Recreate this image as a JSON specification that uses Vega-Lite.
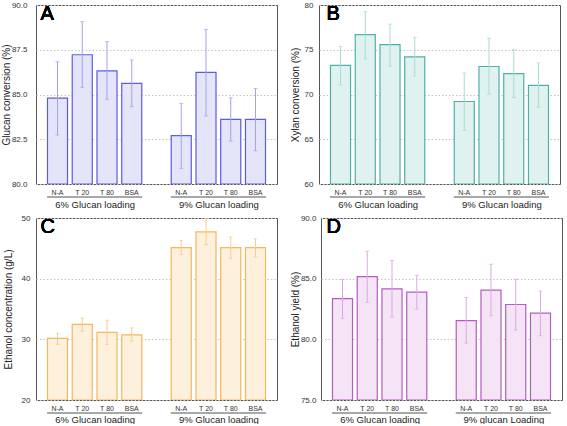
{
"$schema": "https://vega.github.io/schema/vega-lite/v6.json",
"padding": {"left": 0, "top": 0, "right": 7, "bottom": 0},
"datasets": {
"A": [
{"load":"6% Glucan loading","trt":"N-A","key":"6|N-A","value":84.8,"lo":82.74,"hi":86.83},
{"load":"6% Glucan loading","trt":"T 20","key":"6|T 20","value":87.22,"lo":85.4,"hi":89.07},
{"load":"6% Glucan loading","trt":"T 80","key":"6|T 80","value":86.32,"lo":84.73,"hi":87.95},
{"load":"6% Glucan loading","trt":"BSA","key":"6|BSA","value":85.62,"lo":84.32,"hi":86.93},
{"load":"9% Glucan loading","trt":"N-A","key":"9|N-A","value":82.7,"lo":80.87,"hi":84.5},
{"load":"9% Glucan loading","trt":"T 20","key":"9|T 20","value":86.24,"lo":83.8,"hi":88.64},
{"load":"9% Glucan loading","trt":"T 80","key":"9|T 80","value":83.61,"lo":82.4,"hi":84.82},
{"load":"9% Glucan loading","trt":"BSA","key":"9|BSA","value":83.61,"lo":81.86,"hi":85.34}
],
"B": [
{"load":"6% Glucan loading","trt":"N-A","key":"6|N-A","value":73.25,"lo":71.07,"hi":75.38},
{"load":"6% Glucan loading","trt":"T 20","key":"6|T 20","value":76.68,"lo":73.98,"hi":79.26},
{"load":"6% Glucan loading","trt":"T 80","key":"6|T 80","value":75.57,"lo":73.17,"hi":77.86},
{"load":"6% Glucan loading","trt":"BSA","key":"6|BSA","value":74.2,"lo":72.06,"hi":76.38},
{"load":"9% Glucan loading","trt":"N-A","key":"9|N-A","value":69.22,"lo":66.0,"hi":72.4},
{"load":"9% Glucan loading","trt":"T 20","key":"9|T 20","value":73.13,"lo":70.03,"hi":76.3},
{"load":"9% Glucan loading","trt":"T 80","key":"9|T 80","value":72.33,"lo":69.67,"hi":75.02},
{"load":"9% Glucan loading","trt":"BSA","key":"9|BSA","value":71.03,"lo":68.56,"hi":73.54}
],
"C": [
{"load":"6% Glucan loading","trt":"N-A","key":"6|N-A","value":30.15,"lo":29.15,"hi":31.0},
{"load":"6% Glucan loading","trt":"T 20","key":"6|T 20","value":32.45,"lo":31.35,"hi":33.5},
{"load":"6% Glucan loading","trt":"T 80","key":"6|T 80","value":31.15,"lo":29.15,"hi":33.16},
{"load":"6% Glucan loading","trt":"BSA","key":"6|BSA","value":30.75,"lo":29.7,"hi":31.9},
{"load":"9% Glucan loading","trt":"N-A","key":"9|N-A","value":45.12,"lo":43.97,"hi":46.27},
{"load":"9% Glucan loading","trt":"T 20","key":"9|T 20","value":47.7,"lo":45.6,"hi":49.9},
{"load":"9% Glucan loading","trt":"T 80","key":"9|T 80","value":45.12,"lo":43.3,"hi":46.87},
{"load":"9% Glucan loading","trt":"BSA","key":"9|BSA","value":45.12,"lo":43.6,"hi":46.6}
],
"D": [
{"load":"6% Glucan loading","trt":"N-A","key":"6|N-A","value":83.36,"lo":81.72,"hi":84.95},
{"load":"6% Glucan loading","trt":"T 20","key":"6|T 20","value":85.17,"lo":83.04,"hi":87.26},
{"load":"6% Glucan loading","trt":"T 80","key":"6|T 80","value":84.16,"lo":81.86,"hi":86.49},
{"load":"6% Glucan loading","trt":"BSA","key":"6|BSA","value":83.89,"lo":82.49,"hi":85.28},
{"load":"9% glucan Loading","trt":"N-A","key":"9|N-A","value":81.55,"lo":79.69,"hi":83.45},
{"load":"9% glucan Loading","trt":"T 20","key":"9|T 20","value":84.05,"lo":81.94,"hi":86.19},
{"load":"9% glucan Loading","trt":"T 80","key":"9|T 80","value":82.87,"lo":80.76,"hi":84.95},
{"load":"9% glucan Loading","trt":"BSA","key":"9|BSA","value":82.16,"lo":80.3,"hi":83.97}
]
},
"columns": 2,
"align": "none",
"spacing": {"row": 4, "column": 11},
"concat": [
{
"data": {"name": "A"},
"width": 241, "height": 179,
"layer": [
{"mark": {"type": "bar", "fill": "#e5e5fa", "stroke": "#5b5be8", "strokeWidth": 1.2, "clip": true},
 "encoding": {
  "x": {"field": "key", "type": "nominal", "sort": null, "scale": {"domain": ["6|N-A","6|T 20","6|T 80","6|BSA","gap","9|N-A","9|T 20","9|T 80","9|BSA"], "paddingInner": 0.19, "paddingOuter": 0.464}, "axis": {"orient": "bottom", "title": null, "labelExpr": "datum.value == 'gap' ? '' : slice(datum.value, 2)", "ticks": false, "domain": false, "grid": false, "labelAngle": 0, "labelFontSize": 7, "labelPadding": 4.5, "labelColor": "#333"}},
  "y": {"field": "value", "type": "quantitative", "stack": null, "scale": {"domain": [80, 90], "nice": false, "zero": false}, "axis": {"title": "Glucan conversion (%)", "labelOverlap": false, "labelPadding": 9, "titlePadding": 0, "values": [80, 81.25, 82.5, 83.75, 85, 86.25, 87.5, 88.75, 90], "labelExpr": "datum.value % 2.5 == 0 ? format(datum.value, '.1f') : ''"}}
 }},
{"mark": {"type": "rule", "color": "#a3a3ee", "strokeWidth": 1},
 "encoding": {
  "x": {"field": "key", "type": "nominal", "sort": null, "scale": {"domain": ["6|N-A","6|T 20","6|T 80","6|BSA","gap","9|N-A","9|T 20","9|T 80","9|BSA"], "paddingInner": 0.19, "paddingOuter": 0.464}, "axis": null},
  "y": {"field": "lo", "type": "quantitative"}, "y2": {"field": "hi"}}},
{"mark": {"type": "tick", "orient": "horizontal", "color": "#a3a3ee", "size": 4, "thickness": 1},
 "encoding": {
  "x": {"field": "key", "type": "nominal", "sort": null, "scale": {"domain": ["6|N-A","6|T 20","6|T 80","6|BSA","gap","9|N-A","9|T 20","9|T 80","9|BSA"], "paddingInner": 0.19, "paddingOuter": 0.464}, "axis": null},
  "y": {"field": "hi", "type": "quantitative"}}},
{"mark": {"type": "tick", "orient": "horizontal", "color": "#a3a3ee", "size": 4, "thickness": 1},
 "encoding": {
  "x": {"field": "key", "type": "nominal", "sort": null, "scale": {"domain": ["6|N-A","6|T 20","6|T 80","6|BSA","gap","9|N-A","9|T 20","9|T 80","9|BSA"], "paddingInner": 0.19, "paddingOuter": 0.464}, "axis": null},
  "y": {"field": "lo", "type": "quantitative"}}},
{"mark": {"type": "text", "text": "A", "fontSize": 20, "align": "left", "baseline": "top", "dx": -9, "dy": -1, "color": "#000"},
 "encoding": {
  "x": {"datum": "6|N-A", "type": "nominal", "bandPosition": 0, "scale": {"domain": ["6|N-A","6|T 20","6|T 80","6|BSA","gap","9|N-A","9|T 20","9|T 80","9|BSA"], "paddingInner": 0.19, "paddingOuter": 0.464}, "axis": null},
  "y": {"datum": 90, "type": "quantitative"}}},
{"mark": {"type": "tick", "orient": "horizontal", "size": 95, "thickness": 1, "color": "#999"},
 "encoding": {
  "y": {"datum": 79.27, "type": "quantitative"},
  "x": {"field": "load", "type": "nominal", "scale": {"type": "point", "padding": 0.4738, "domain": ["6% Glucan loading", "9% Glucan loading"]}, "axis": {"orient": "bottom", "title": null, "labelFontSize": 9.5, "labelColor": "#222", "domain": false, "ticks": false, "grid": false, "offset": 15, "labelPadding": 0, "labelAngle": 0}}}}
],
"resolve": {"scale": {"x": "independent"}, "axis": {"x": "independent"}}
},
{
"data": {"name": "B"},
"width": 241, "height": 179,
"layer": [
{"mark": {"type": "bar", "fill": "#e0f2f0", "stroke": "#4fb0a8", "strokeWidth": 1.2, "clip": true},
 "encoding": {
  "x": {"field": "key", "type": "nominal", "sort": null, "scale": {"domain": ["6|N-A","6|T 20","6|T 80","6|BSA","gap","9|N-A","9|T 20","9|T 80","9|BSA"], "paddingInner": 0.19, "paddingOuter": 0.464}, "axis": {"orient": "bottom", "title": null, "labelExpr": "datum.value == 'gap' ? '' : slice(datum.value, 2)", "ticks": false, "domain": false, "grid": false, "labelAngle": 0, "labelFontSize": 7, "labelPadding": 4.5, "labelColor": "#333"}},
  "y": {"field": "value", "type": "quantitative", "stack": null, "scale": {"domain": [60, 80], "nice": false, "zero": false}, "axis": {"title": "Xylan conversion (%)", "labelOverlap": false, "labelPadding": 6, "titlePadding": 4, "values": [60, 62.5, 65, 67.5, 70, 72.5, 75, 77.5, 80], "labelExpr": "datum.value % 5 == 0 ? format(datum.value, 'd') : ''"}}
 }},
{"mark": {"type": "rule", "color": "#a9dad5", "strokeWidth": 1},
 "encoding": {
  "x": {"field": "key", "type": "nominal", "sort": null, "scale": {"domain": ["6|N-A","6|T 20","6|T 80","6|BSA","gap","9|N-A","9|T 20","9|T 80","9|BSA"], "paddingInner": 0.19, "paddingOuter": 0.464}, "axis": null},
  "y": {"field": "lo", "type": "quantitative"}, "y2": {"field": "hi"}}},
{"mark": {"type": "tick", "orient": "horizontal", "color": "#a9dad5", "size": 4, "thickness": 1},
 "encoding": {
  "x": {"field": "key", "type": "nominal", "sort": null, "scale": {"domain": ["6|N-A","6|T 20","6|T 80","6|BSA","gap","9|N-A","9|T 20","9|T 80","9|BSA"], "paddingInner": 0.19, "paddingOuter": 0.464}, "axis": null},
  "y": {"field": "hi", "type": "quantitative"}}},
{"mark": {"type": "tick", "orient": "horizontal", "color": "#a9dad5", "size": 4, "thickness": 1},
 "encoding": {
  "x": {"field": "key", "type": "nominal", "sort": null, "scale": {"domain": ["6|N-A","6|T 20","6|T 80","6|BSA","gap","9|N-A","9|T 20","9|T 80","9|BSA"], "paddingInner": 0.19, "paddingOuter": 0.464}, "axis": null},
  "y": {"field": "lo", "type": "quantitative"}}},
{"mark": {"type": "text", "text": "B", "fontSize": 20, "align": "left", "baseline": "top", "dx": -6, "dy": -1, "color": "#000"},
 "encoding": {
  "x": {"datum": "6|N-A", "type": "nominal", "bandPosition": 0, "scale": {"domain": ["6|N-A","6|T 20","6|T 80","6|BSA","gap","9|N-A","9|T 20","9|T 80","9|BSA"], "paddingInner": 0.19, "paddingOuter": 0.464}, "axis": null},
  "y": {"datum": 80, "type": "quantitative"}}},
{"mark": {"type": "tick", "orient": "horizontal", "size": 95, "thickness": 1, "color": "#999"},
 "encoding": {
  "y": {"datum": 58.55, "type": "quantitative"},
  "x": {"field": "load", "type": "nominal", "scale": {"type": "point", "padding": 0.4738, "domain": ["6% Glucan loading", "9% Glucan loading"]}, "axis": {"orient": "bottom", "title": null, "labelFontSize": 9.5, "labelColor": "#222", "domain": false, "ticks": false, "grid": false, "offset": 15, "labelPadding": 0, "labelAngle": 0}}}}
],
"resolve": {"scale": {"x": "independent"}, "axis": {"x": "independent"}}
},
{
"data": {"name": "C"},
"width": 241, "height": 182,
"layer": [
{"mark": {"type": "bar", "fill": "#fdf0dc", "stroke": "#f6b65c", "strokeWidth": 1.2, "clip": true},
 "encoding": {
  "x": {"field": "key", "type": "nominal", "sort": null, "scale": {"domain": ["6|N-A","6|T 20","6|T 80","6|BSA","gap","9|N-A","9|T 20","9|T 80","9|BSA"], "paddingInner": 0.19, "paddingOuter": 0.464}, "axis": {"orient": "bottom", "title": null, "labelExpr": "datum.value == 'gap' ? '' : slice(datum.value, 2)", "ticks": false, "domain": false, "grid": false, "labelAngle": 0, "labelFontSize": 7, "labelPadding": 4.5, "labelColor": "#333"}},
  "y": {"field": "value", "type": "quantitative", "stack": null, "scale": {"domain": [20, 50], "nice": false, "zero": false}, "axis": {"title": "Ethanol concentration (g/L)", "labelOverlap": false, "labelPadding": 6, "titlePadding": 8, "values": [20, 25, 30, 35, 40, 45, 50], "format": "d"}}
 }},
{"mark": {"type": "rule", "color": "#f8cc90", "strokeWidth": 1},
 "encoding": {
  "x": {"field": "key", "type": "nominal", "sort": null, "scale": {"domain": ["6|N-A","6|T 20","6|T 80","6|BSA","gap","9|N-A","9|T 20","9|T 80","9|BSA"], "paddingInner": 0.19, "paddingOuter": 0.464}, "axis": null},
  "y": {"field": "lo", "type": "quantitative"}, "y2": {"field": "hi"}}},
{"mark": {"type": "tick", "orient": "horizontal", "color": "#f8cc90", "size": 4, "thickness": 1},
 "encoding": {
  "x": {"field": "key", "type": "nominal", "sort": null, "scale": {"domain": ["6|N-A","6|T 20","6|T 80","6|BSA","gap","9|N-A","9|T 20","9|T 80","9|BSA"], "paddingInner": 0.19, "paddingOuter": 0.464}, "axis": null},
  "y": {"field": "hi", "type": "quantitative"}}},
{"mark": {"type": "tick", "orient": "horizontal", "color": "#f8cc90", "size": 4, "thickness": 1},
 "encoding": {
  "x": {"field": "key", "type": "nominal", "sort": null, "scale": {"domain": ["6|N-A","6|T 20","6|T 80","6|BSA","gap","9|N-A","9|T 20","9|T 80","9|BSA"], "paddingInner": 0.19, "paddingOuter": 0.464}, "axis": null},
  "y": {"field": "lo", "type": "quantitative"}}},
{"mark": {"type": "text", "text": "C", "fontSize": 20, "align": "left", "baseline": "top", "dx": -9, "dy": -1, "color": "#000"},
 "encoding": {
  "x": {"datum": "6|N-A", "type": "nominal", "bandPosition": 0, "scale": {"domain": ["6|N-A","6|T 20","6|T 80","6|BSA","gap","9|N-A","9|T 20","9|T 80","9|BSA"], "paddingInner": 0.19, "paddingOuter": 0.464}, "axis": null},
  "y": {"datum": 50, "type": "quantitative"}}},
{"mark": {"type": "tick", "orient": "horizontal", "size": 95, "thickness": 1, "color": "#999"},
 "encoding": {
  "y": {"datum": 17.86, "type": "quantitative"},
  "x": {"field": "load", "type": "nominal", "scale": {"type": "point", "padding": 0.4738, "domain": ["6% Glucan loading", "9% Glucan loading"]}, "axis": {"orient": "bottom", "title": null, "labelFontSize": 9.5, "labelColor": "#222", "domain": false, "ticks": false, "grid": false, "offset": 14, "labelPadding": 0, "labelAngle": 0}}}}
],
"resolve": {"scale": {"x": "independent"}, "axis": {"x": "independent"}}
},
{
"data": {"name": "D"},
"width": 241, "height": 182,
"layer": [
{"mark": {"type": "bar", "fill": "#f4e4f6", "stroke": "#b55cc2", "strokeWidth": 1.2, "clip": true},
 "encoding": {
  "x": {"field": "key", "type": "nominal", "sort": null, "scale": {"domain": ["6|N-A","6|T 20","6|T 80","6|BSA","gap","9|N-A","9|T 20","9|T 80","9|BSA"], "paddingInner": 0.19, "paddingOuter": 0.464}, "axis": {"orient": "bottom", "title": null, "labelExpr": "datum.value == 'gap' ? '' : slice(datum.value, 2)", "ticks": false, "domain": false, "grid": false, "labelAngle": 0, "labelFontSize": 7, "labelPadding": 4.5, "labelColor": "#333"}},
  "y": {"field": "value", "type": "quantitative", "stack": null, "scale": {"domain": [75, 90], "nice": false, "zero": false}, "axis": {"title": "Ethanol yield (%)", "labelOverlap": false, "labelPadding": 5, "titlePadding": 0, "values": [75, 77.5, 80, 82.5, 85, 87.5, 90], "format": ".1f"}}
 }},
{"mark": {"type": "rule", "color": "#dba9e1", "strokeWidth": 1},
 "encoding": {
  "x": {"field": "key", "type": "nominal", "sort": null, "scale": {"domain": ["6|N-A","6|T 20","6|T 80","6|BSA","gap","9|N-A","9|T 20","9|T 80","9|BSA"], "paddingInner": 0.19, "paddingOuter": 0.464}, "axis": null},
  "y": {"field": "lo", "type": "quantitative"}, "y2": {"field": "hi"}}},
{"mark": {"type": "tick", "orient": "horizontal", "color": "#dba9e1", "size": 4, "thickness": 1},
 "encoding": {
  "x": {"field": "key", "type": "nominal", "sort": null, "scale": {"domain": ["6|N-A","6|T 20","6|T 80","6|BSA","gap","9|N-A","9|T 20","9|T 80","9|BSA"], "paddingInner": 0.19, "paddingOuter": 0.464}, "axis": null},
  "y": {"field": "hi", "type": "quantitative"}}},
{"mark": {"type": "tick", "orient": "horizontal", "color": "#dba9e1", "size": 4, "thickness": 1},
 "encoding": {
  "x": {"field": "key", "type": "nominal", "sort": null, "scale": {"domain": ["6|N-A","6|T 20","6|T 80","6|BSA","gap","9|N-A","9|T 20","9|T 80","9|BSA"], "paddingInner": 0.19, "paddingOuter": 0.464}, "axis": null},
  "y": {"field": "lo", "type": "quantitative"}}},
{"mark": {"type": "text", "text": "D", "fontSize": 20, "align": "left", "baseline": "top", "dx": -8, "dy": -1, "color": "#000"},
 "encoding": {
  "x": {"datum": "6|N-A", "type": "nominal", "bandPosition": 0, "scale": {"domain": ["6|N-A","6|T 20","6|T 80","6|BSA","gap","9|N-A","9|T 20","9|T 80","9|BSA"], "paddingInner": 0.19, "paddingOuter": 0.464}, "axis": null},
  "y": {"datum": 90, "type": "quantitative"}}},
{"mark": {"type": "tick", "orient": "horizontal", "size": 95, "thickness": 1, "color": "#999"},
 "encoding": {
  "y": {"datum": 73.93, "type": "quantitative"},
  "x": {"field": "load", "type": "nominal", "scale": {"type": "point", "padding": 0.4738, "domain": ["6% Glucan loading", "9% glucan Loading"]}, "axis": {"orient": "bottom", "title": null, "labelFontSize": 9.5, "labelColor": "#222", "domain": false, "ticks": false, "grid": false, "offset": 14, "labelPadding": 0, "labelAngle": 0}}}}
],
"resolve": {"scale": {"x": "independent"}, "axis": {"x": "independent"}}
}
],
"config": {
"font": "Liberation Sans",
"view": {"stroke": "#555", "strokeWidth": 1},
"axis": {"labelFont": "Liberation Sans", "titleFont": "Liberation Sans", "titleFontWeight": "normal"},
"axisY": {"grid": true, "gridDash": [1.5, 2], "gridColor": "#c4c4c4", "ticks": false, "domain": false, "labelFontSize": 8, "labelColor": "#333", "labelOverlap": false, "titleFontSize": 10, "titleColor": "#222"}
}
}
